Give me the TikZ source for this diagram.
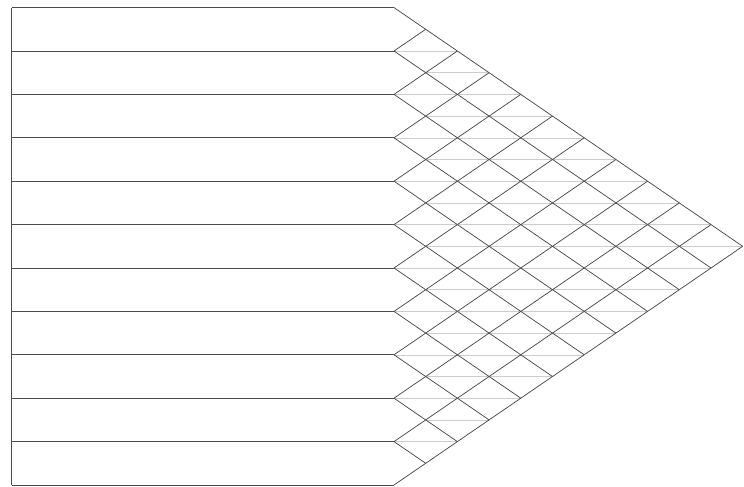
\documentclass[tikz,border=0pt]{standalone}
\usetikzlibrary{calc}
\definecolor{lineGray}{RGB}{75,75,75}
\definecolor{meshGray}{RGB}{205,205,205}

\begin{document}
\begin{tikzpicture}[
    x=1pt, y=-1pt,
    strip/.style={draw=lineGray, line width=0.9pt},
    mesh/.style={draw=lineGray, line width=0.75pt},
    faint/.style={draw=meshGray, line width=0.6pt}
]
\useasboundingbox (0,0) rectangle (744,487);
\def\xL{11.5}
\def\xS{394}
\def\yT{7.6}
\def\hh{21.7}
\def\dd{31.7}

% faint rows inside the point
\foreach \j in {2,...,20} {
  \pgfmathtruncatemacro{\ia}{mod(\j,2)}
  \pgfmathtruncatemacro{\ib}{min(\j,22-\j)}
  \draw[faint] ({\xS+\dd*\ia},{\yT+\hh*\j}) -- ({\xS+\dd*\ib},{\yT+\hh*\j});
}

% strips
\draw[strip] (\xL,\yT) -- (\xL,{\yT+22*\hh});
\foreach \k in {0,...,11}
  \draw[strip] (\xL,{\yT+2*\k*\hh}) -- (\xS,{\yT+2*\k*\hh});

% diagonal mesh
\foreach \k in {0,...,10}
  \draw[mesh] (\xS,{\yT+2*\k*\hh}) -- ({\xS+\dd*(11-\k)},{\yT+\hh*(11+\k)});
\foreach \k in {1,...,11}
  \draw[mesh] (\xS,{\yT+2*\k*\hh}) -- ({\xS+\dd*\k},{\yT+\hh*\k});

\end{tikzpicture}
\end{document}
